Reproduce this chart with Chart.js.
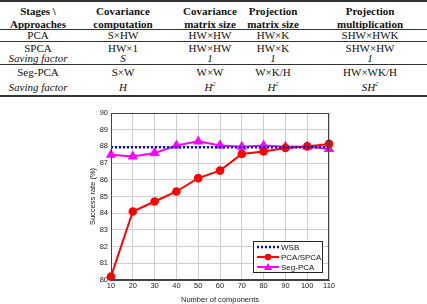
<!DOCTYPE html>
<html>
<head>
<meta charset="utf-8">
<script src="https://cdn.jsdelivr.net/npm/chart.js@4.4.0/dist/chart.umd.min.js"></script>
<style>
  body { margin: 0; background: #fff; width: 427px; height: 304px; overflow: hidden; position: relative; }
  .cell { position: absolute; transform: translate(-50%, -50%); white-space: nowrap;
          font-family: "Liberation Serif", "Times New Roman", serif; font-size: 11px; color: #111; line-height: 1; }
  .hd { font-weight: bold; }
  .it { font-style: italic; }
  sup { font-size: 6px; vertical-align: 5px; }
  .rule { position: absolute; left: 0; width: 427px; background: #333; }
  #box { position: absolute; left: 75px; top: 100px; width: 270px; height: 204px; }
</style>
</head>
<body>
<div id="table"></div>
<div id="box"><canvas id="myChart" width="270" height="204"></canvas></div>
<script>
// table text
var colX = [38, 123, 210, 273, 370];
var headLine1 = ['Stages \\', 'Covariance', 'Covariance', 'Projection', 'Projection'];
var headLine2 = ['Approaches', 'computation', 'matrix size', 'matrix size', 'multiplication'];
var rowPCA = ['PCA', 'S\u00d7HW', 'HW\u00d7HW', 'HW\u00d7K', 'SHW\u00d7HWK'];
var rowSPCA = ['SPCA', 'HW\u00d71', 'HW\u00d7HW', 'HW\u00d7K', 'SHW\u00d7HW'];
var rowSave1 = ['Saving factor', 'S', '1', '1', '1'];
var rowSeg = ['Seg-PCA', 'S\u00d7W', 'W\u00d7W', 'W\u00d7K/H', 'HW\u00d7WK/H'];
var rowSave2 = ['Saving factor', 'H', 'H<sup>2</sup>', 'H<sup>2</sup>', 'SH<sup>2</sup>'];

// chart data
var components = [10, 20, 30, 40, 50, 60, 70, 80, 90, 100, 110];
var wsb = [87.95, 87.95, 87.95, 87.95, 87.95, 87.95, 87.95, 87.95, 87.95, 87.95, 87.95];
var pcaSpca = [80.2, 84.1, 84.7, 85.3, 86.1, 86.55, 87.55, 87.7, 87.9, 88.0, 88.15];
var segPca = [87.5, 87.4, 87.6, 88.05, 88.3, 88.05, 87.98, 88.05, 87.98, 88.0, 87.85];
var yTicks = [80, 81, 82, 83, 84, 85, 86, 87, 88, 89, 90];

var table = document.getElementById('table');
function addRow(cells, y, cls, italic) {
    for (var i = 0; i < cells.length; i++) {
        var d = document.createElement('div');
        d.className = 'cell ' + cls + (italic ? ' it' : '');
        d.style.left = colX[i] + 'px';
        d.style.top = y + 'px';
        d.innerHTML = cells[i];
        table.appendChild(d);
    }
}
function addRule(y, h) {
    var r = document.createElement('div');
    r.className = 'rule';
    r.style.top = y + 'px';
    r.style.height = h + 'px';
    table.appendChild(r);
}
addRule(0, 2);
addRow(headLine1, 11, 'hd');
addRow(headLine2, 24, 'hd');
addRule(29, 1);
addRow(rowPCA, 35, '');
addRule(41, 1);
addRow(rowSPCA, 48, '');
addRow(rowSave1, 58, '', true);
addRule(64, 1);
addRow(rowSeg, 72, '');
addRow(rowSave2, 87, '', true);
addRule(95, 2);

function pts(arr) {
    var out = [];
    for (var i = 0; i < components.length; i++) out.push({x: components[i], y: arr[i]});
    return out;
}

// frame + legend inside the plot
const framePlugin = {
    id: 'frame',
    afterDraw(chart) {
        const ctx = chart.ctx;
        const a = chart.chartArea;
        ctx.save();
        ctx.strokeStyle = '#444';
        ctx.lineWidth = 1;
        ctx.strokeRect(a.left + 0.5, a.top + 0.5, a.right - a.left - 1, a.bottom - a.top - 1);

        // legend box
        const bx = a.right - 76, by = a.bottom - 39, bw = 69, bh = 31;
        ctx.fillStyle = '#fff';
        ctx.fillRect(bx, by, bw, bh);
        ctx.strokeStyle = '#222';
        ctx.strokeRect(bx + 0.5, by + 0.5, bw, bh);
        ctx.font = '8px "Liberation Sans", Arial, sans-serif';
        ctx.textBaseline = 'middle';
        chart.data.datasets.forEach(function(ds, i) {
            const y = by + 6 + i * 10;
            ctx.strokeStyle = ds.borderColor;
            ctx.lineWidth = ds.borderWidth;
            ctx.setLineDash(ds.borderDash || []);
            ctx.beginPath();
            ctx.moveTo(bx + 4, y);
            ctx.lineTo(bx + 26, y);
            ctx.stroke();
            ctx.setLineDash([]);
            if (ds.pointRadius > 0) {
                ctx.fillStyle = ds.pointBackgroundColor;
                ctx.beginPath();
                if (ds.pointStyle == 'triangle') {
                    ctx.moveTo(bx + 15, y - 4);
                    ctx.lineTo(bx + 19, y + 3);
                    ctx.lineTo(bx + 11, y + 3);
                    ctx.closePath();
                } else {
                    ctx.arc(bx + 15, y, 3.3, 0, Math.PI * 2);
                }
                ctx.fill();
            }
            ctx.fillStyle = '#111';
            ctx.fillText(ds.label, bx + 28, y + 0.5);
        });
        ctx.restore();
    }
};

const ctx = document.getElementById('myChart');
const myChart = new Chart(ctx, {
    type: 'line',
    data: {
        datasets: [{
            label: 'WSB',
            data: pts(wsb),
            borderColor: 'rgb(0,0,255)',
            borderWidth: 2.5,
            borderDash: [2, 2],
            pointRadius: 0,
            clip: false
        }, {
            label: 'PCA/SPCA',
            data: pts(pcaSpca),
            borderColor: 'rgb(255,0,0)',
            backgroundColor: 'rgb(255,0,0)',
            pointBackgroundColor: 'rgb(255,0,0)',
            pointBorderColor: 'rgb(255,0,0)',
            borderWidth: 2,
            pointRadius: 3.3,
            pointStyle: 'circle',
            clip: false
        }, {
            label: 'Seg-PCA',
            data: pts(segPca),
            borderColor: 'rgb(255,0,255)',
            backgroundColor: 'rgb(255,0,255)',
            pointBackgroundColor: 'rgb(255,0,255)',
            pointBorderColor: 'rgb(255,0,255)',
            borderWidth: 2,
            pointRadius: 4,
            pointStyle: 'triangle',
            clip: false
        }]
    },
    options: {
        responsive: false,
        animation: false,
        layout: { padding: { top: 13, right: 16, left: 0, bottom: 0 } },
        plugins: { legend: { display: false }, tooltip: { enabled: false } },
        scales: {
            x: {
                type: 'linear',
                min: 10, max: 110,
                afterFit: function(s) { s.height = 24; },
                afterBuildTicks: function(s) { s.ticks = components.map(function(v) { return {value: v}; }); },
                ticks: { color: '#222', font: { size: 7.5, family: '"Liberation Sans", Arial' }, padding: 1, maxRotation: 0 },
                grid: { color: '#cfcfcf', tickLength: 0 },
                border: { color: '#444' },
                title: { display: true, text: 'Number of components', color: '#222',
                         font: { size: 7.5, family: '"Liberation Sans", Arial' }, padding: { top: 1, bottom: 0 } }
            },
            y: {
                min: 80, max: 90,
                afterFit: function(s) { s.width = 36; },
                afterBuildTicks: function(s) { s.ticks = yTicks.map(function(v) { return {value: v}; }); },
                ticks: { color: '#222', font: { size: 7.5, family: '"Liberation Sans", Arial' }, padding: 3 },
                grid: { color: '#cfcfcf', tickLength: 0 },
                border: { color: '#444' },
                title: { display: true, text: 'Success rate (%)', color: '#222',
                         font: { size: 7.5, family: '"Liberation Sans", Arial' }, padding: { top: 13, bottom: 0 } }
            }
        }
    },
    plugins: [framePlugin]
});
</script>
</body>
</html>
